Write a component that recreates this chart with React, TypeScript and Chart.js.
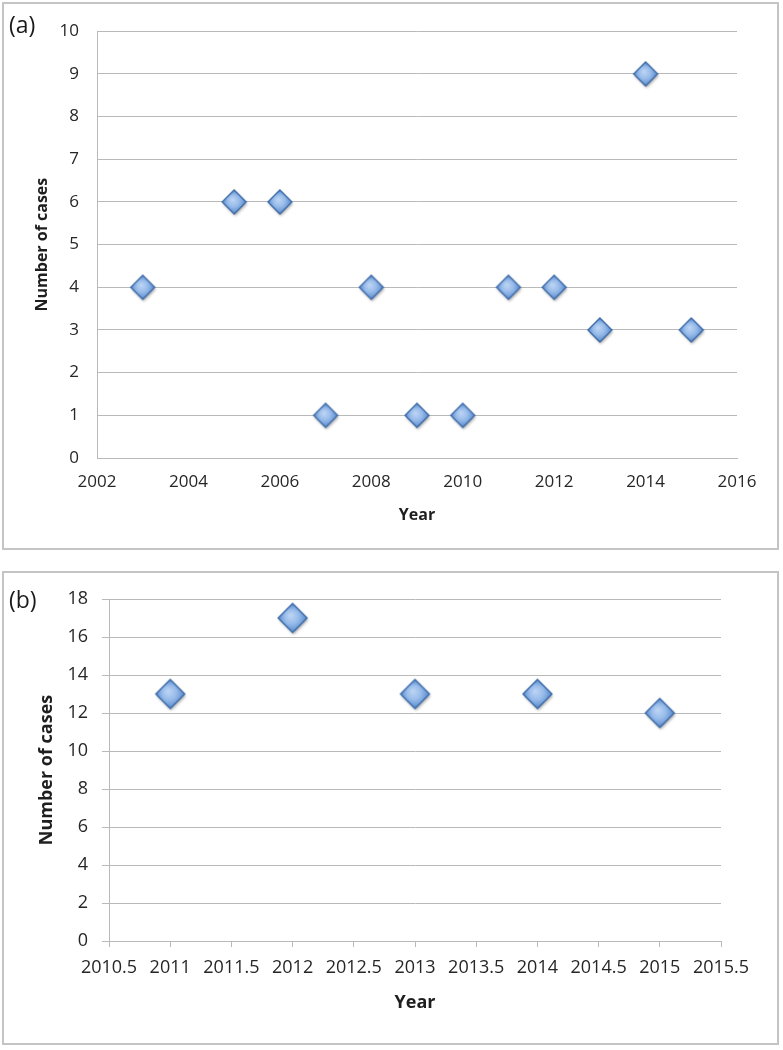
import React, { useEffect, useRef } from "react";
import { Chart, registerables } from "chart.js";

Chart.register(...registerables);

// ---- data ----
const yearsA = [2003, 2005, 2006, 2007, 2008, 2009, 2010, 2011, 2012, 2013, 2014, 2015];
const casesA = [4, 6, 6, 1, 4, 1, 1, 4, 4, 3, 9, 3];
const yearsB = [2011, 2012, 2013, 2014, 2015];
const casesB = [13, 17, 13, 13, 12];
const xTitle = "Year";
const yTitle = "Number of cases";
const panelLabels = ["(a)", "(b)"];

const FONT = "'Open Sans', 'DejaVu Sans', sans-serif";
const GRID = "#b9b9b9";
const TICK = "#262626";

function makeDiamond(r: number): HTMLCanvasElement {
  const pad = 6;
  const size = Math.ceil(2 * r + 2 * pad);
  const c = document.createElement("canvas");
  c.width = size;
  c.height = size;
  const ctx = c.getContext("2d")!;
  const cx = size / 2;
  const cy = size / 2;
  const path = () => {
    ctx.beginPath();
    ctx.moveTo(cx, cy - r);
    ctx.lineTo(cx + r, cy);
    ctx.lineTo(cx, cy + r);
    ctx.lineTo(cx - r, cy);
    ctx.closePath();
  };
  ctx.save();
  ctx.shadowColor = "rgba(0,0,0,0.35)";
  ctx.shadowBlur = 3;
  ctx.shadowOffsetX = 1;
  ctx.shadowOffsetY = 2;
  path();
  ctx.fillStyle = "#5f90d0";
  ctx.fill();
  ctx.restore();
  const g = ctx.createRadialGradient(cx - r * 0.15, cy - r * 0.2, 0, cx, cy, r * 0.95);
  g.addColorStop(0, "#bfd6f4");
  g.addColorStop(0.5, "#9abdeb");
  g.addColorStop(1, "#5b8dcf");
  path();
  ctx.fillStyle = g;
  ctx.fill();
  ctx.lineWidth = 1.3;
  ctx.strokeStyle = "#3a68a5";
  ctx.stroke();
  return c;
}

type PanelCfg = {
  xs: number[];
  ys: number[];
  xMin: number;
  xMax: number;
  xStep: number;
  yMax: number;
  yStep: number;
  r: number;
  tickSize: number;
  titleSize: number;
  xTickPad: number;
  yTickPad: number;
  tickLen: number;
  yAxisWidth: number;
  xAxisHeight: number;
  padding: { left: number; right: number; top: number; bottom: number };
};

function buildChart(canvas: HTMLCanvasElement, p: PanelCfg) {
  const img = makeDiamond(p.r);
  const drawTicks = p.tickLen > 0;
  return new Chart(canvas, {
    type: "scatter",
    data: {
      datasets: [
        {
          data: p.xs.map((x, i) => ({ x, y: p.ys[i] })),
          pointStyle: img as any,
          pointRadius: p.r,
          pointHoverRadius: p.r,
          showLine: false,
        },
      ],
    },
    options: {
      responsive: false,
      animation: false,
      events: [],
      layout: { padding: p.padding },
      plugins: { legend: { display: false }, tooltip: { enabled: false } },
      scales: {
        x: {
          type: "linear",
          min: p.xMin,
          max: p.xMax,
          ticks: {
            stepSize: p.xStep,
            callback: (v: any) => String(v),
            font: { family: FONT, size: p.tickSize },
            color: TICK,
            padding: p.xTickPad,
            maxRotation: 0,
            autoSkip: false,
          },
          grid: {
            drawOnChartArea: false,
            drawTicks,
            tickLength: p.tickLen,
            color: GRID,
            tickColor: GRID,
          },
          border: { color: GRID, width: 1 },
          title: {
            display: true,
            text: xTitle,
            font: { family: FONT, size: p.titleSize, weight: "bold" },
            color: "#1e1e1e",
            padding: { top: 4, bottom: 4 },
          },
          afterFit: (s: any) => {
            s.height = p.xAxisHeight;
          },
        },
        y: {
          type: "linear",
          min: 0,
          max: p.yMax,
          ticks: {
            stepSize: p.yStep,
            font: { family: FONT, size: p.tickSize },
            color: TICK,
            padding: p.yTickPad,
          },
          grid: {
            color: GRID,
            drawTicks,
            tickLength: p.tickLen + 1,
            tickColor: GRID,
          },
          border: { color: GRID, width: 1 },
          title: {
            display: true,
            text: yTitle,
            font: { family: FONT, size: p.titleSize, weight: "bold" },
            color: "#1e1e1e",
            padding: { top: 4, bottom: 4 },
          },
          afterFit: (s: any) => {
            s.width = p.yAxisWidth;
          },
        },
      },
    } as any,
  });
}

export default function App() {
  const refA = useRef<HTMLCanvasElement>(null);
  const refB = useRef<HTMLCanvasElement>(null);

  useEffect(() => {
    const a = buildChart(refA.current!, {
      xs: yearsA,
      ys: casesA,
      xMin: 2002,
      xMax: 2016,
      xStep: 2,
      yMax: 10,
      yStep: 1,
      r: 12,
      tickSize: 17,
      titleSize: 16,
      xTickPad: 14,
      yTickPad: 18,
      tickLen: 0,
      yAxisWidth: 68,
      xAxisHeight: 71,
      padding: { left: 26, right: 42, top: 25, bottom: 19 },
    });
    const b = buildChart(refB.current!, {
      xs: yearsB,
      ys: casesB,
      xMin: 2010.5,
      xMax: 2015.5,
      xStep: 0.5,
      yMax: 18,
      yStep: 2,
      r: 14.5,
      tickSize: 18,
      titleSize: 18,
      xTickPad: 10,
      yTickPad: 14,
      tickLen: 6,
      yAxisWidth: 77,
      xAxisHeight: 77,
      padding: { left: 29, right: 58, top: 27, bottom: 26 },
    });
    return () => {
      a.destroy();
      b.destroy();
    };
  }, []);

  const box = (top: number, height: number): React.CSSProperties => ({
    position: "absolute",
    left: 2,
    top,
    width: 777,
    height,
    border: "2px solid #c4c4c4",
    boxSizing: "border-box",
  });
  const label = (top: number): React.CSSProperties => ({
    position: "absolute",
    left: 9,
    top,
    fontFamily: FONT,
    fontSize: 23,
    lineHeight: "28px",
    color: "#1a1a1a",
  });

  return (
    <div style={{ position: "absolute", left: 0, top: 0, width: 783, height: 1050, background: "#fff" }}>
      <div style={box(2, 548)} />
      <div style={box(571, 474)} />
      <canvas ref={refA} width={776} height={545} style={{ position: "absolute", left: 3, top: 3 }} />
      <canvas ref={refB} width={776} height={472} style={{ position: "absolute", left: 3, top: 572 }} />
      <div style={label(10)}>{panelLabels[0]}</div>
      <div style={label(585)}>{panelLabels[1]}</div>
    </div>
  );
}
